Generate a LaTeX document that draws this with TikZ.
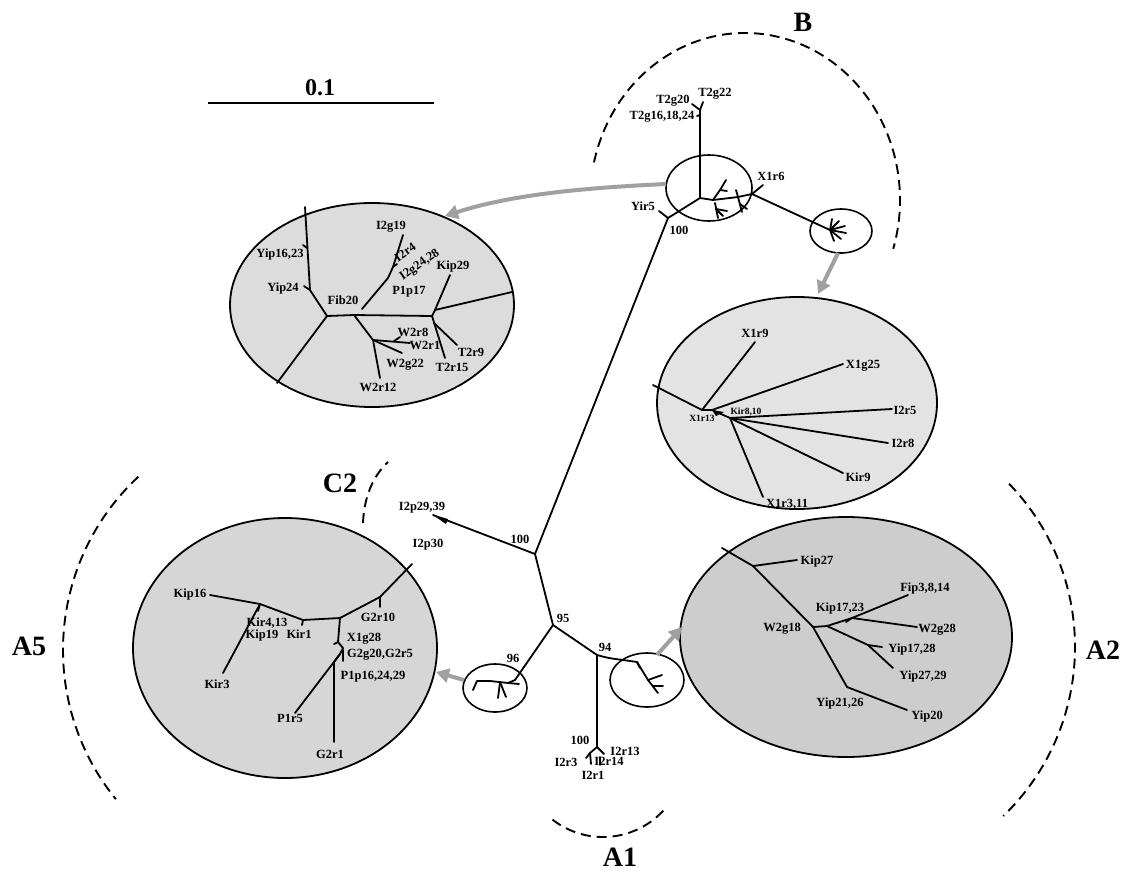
\documentclass[tikz,border=0pt]{standalone}
\usepackage{fontspec}
\setmainfont{Liberation Serif}
\usetikzlibrary{arrows.meta,shapes.geometric}
\definecolor{ea}{HTML}{DCDCDC}
\definecolor{eb}{HTML}{E3E3E3}
\definecolor{ec}{HTML}{D6D6D6}
\definecolor{ed}{HTML}{CDCDCD}
\definecolor{arr}{HTML}{A0A0A0}
\begin{document}
\begin{tikzpicture}[x=1pt,y=-1pt,line cap=round,line join=round,
  br/.style={line width=1.8pt},
  lab/.style={font=\bfseries\fontsize{12.5}{13}\selectfont,inner sep=0pt,text height=8.5pt,text depth=0pt},
  slab/.style={font=\bfseries\fontsize{9.5}{10}\selectfont,inner sep=0pt,text height=6.5pt,text depth=0pt},
  big/.style={font=\bfseries\fontsize{28}{30}\selectfont,inner sep=0pt,text height=19pt,text depth=0pt},
  clade/.style={line width=1.9pt,dash pattern=on 10pt off 6pt,line cap=butt},
  bigell/.style={ellipse,draw=black,line width=1.8pt,inner sep=0pt},
  smell/.style={ellipse,draw=black,line width=1.6pt,inner sep=0pt},
  garrow/.style={line width=4pt,draw=arr,line cap=butt,-{Triangle[length=13pt,width=14pt]}}]
\useasboundingbox (0,0) rectangle (1124,873);
\fill[white] (0,0) rectangle (1124,873);

% ---------- large ellipses ----------
\node[bigell,fill=ea,minimum width=284pt,minimum height=204pt] (E1) at (372,305) {};
\node[bigell,fill=eb,minimum width=280pt,minimum height=212pt] (E2) at (797,403) {};
\node[bigell,fill=ec,minimum width=304pt,minimum height=260pt] (E3) at (285,648) {};
\node[bigell,fill=ed,minimum width=332pt,minimum height=240pt] (E4) at (846,637) {};
% small ellipses
\node[smell,minimum width=86pt,minimum height=66pt] (SB) at (709,188) {};
\node[smell,minimum width=62pt,minimum height=44pt] (SX) at (841,231) {};
\node[smell,minimum width=64pt,minimum height=48pt] (SL) at (495,688) {};
\node[smell,minimum width=74pt,minimum height=54pt] (SR) at (647,680) {};

% ---------- scale bar ----------
\coordinate (s1) at (208,103); \coordinate (s2) at (434,103);
\draw[line width=1.8pt,line cap=butt] (s1) -- (s2);
\node[font=\bfseries\fontsize{24}{26}\selectfont,inner sep=0pt] (sl) at (320,88) {0.1};

% ---------- clade arcs ----------
\draw[clade] (745,200) ++(-167:155 and 167) arc[start angle=-167,end angle=17,x radius=155,y radius=167];
\draw[clade] (300,650) ++(-133:237) arc[start angle=-133,end angle=-219,radius=237];
\draw[clade] (840,647) ++(-44:235) arc[start angle=-44,end angle=46,radius=235];
\draw[clade] (603,755) ++(128:82) arc[start angle=128,end angle=40,radius=82];
\coordinate (c2a) at (363,523); \coordinate (c2b) at (388,462);
\draw[clade] (c2a) .. controls (364,497) and (373,476) .. (c2b);
\node[big] (lB) at (803,22) {B};
\node[big] (lA5) at (29,646) {A5};
\node[big] (lA2) at (1103,650) {A2};
\node[big,anchor=base] (lA1) at (620,866) {A1};
\node[big] (lC2) at (340,483) {C2};

% ---------- grey arrows ----------
\coordinate (g1a) at (666,184); \coordinate (g1b) at (445,216);
\draw[garrow] (g1a) .. controls (580,188) and (510,195) .. (g1b);
\coordinate (g2a) at (838,253); \coordinate (g2b) at (818,294);
\draw[garrow] (g2a) -- (g2b);
\coordinate (g3a) at (464,680); \coordinate (g3b) at (436,672);
\draw[garrow] (g3a) -- (g3b);
\coordinate (g4a) at (657,655); \coordinate (g4b) at (682,627);
\draw[garrow] (g4a) -- (g4b);

% ---------- main tree ----------
\coordinate (Y5) at (668,218); \coordinate (Y5s) at (659,211);
\coordinate (R) at (700,198); \coordinate (Rtop) at (700,110);
\coordinate (T22) at (703,102); \coordinate (T20) at (692,104);
\coordinate (T16a) at (700,115); \coordinate (T16) at (697,116);
\coordinate (Ra) at (713,200); \coordinate (Rb) at (738,197); \coordinate (Rc) at (752,194);
\coordinate (Ru1) at (720,190); \coordinate (Ru2) at (726,180); \coordinate (Ru3) at (727,191);
\coordinate (Rd0) at (715,203); \coordinate (Rd1) at (718,218); \coordinate (Rd2) at (716,209);
\coordinate (Rd3) at (727,211); \coordinate (Rd4) at (723,216);
\coordinate (Rb1) at (742,212); \coordinate (Rb2) at (740,204); \coordinate (Rb3) at (747,209);
\coordinate (Rb4) at (736,190);
\coordinate (X6) at (763,185);
\coordinate (Sb) at (830,230);
\coordinate (N100) at (535,554);
\coordinate (I2p) at (433,515);
\coordinate (N95) at (553,625);
\coordinate (N96) at (515,680);
\coordinate (N94) at (597,655);
\coordinate (Nr) at (597,747);

\draw[br] (Y5s) -- (Y5) -- (N100);
\draw[br] (Y5) -- (R) -- (Rtop) -- (T22);
\draw[br] (Rtop) -- (T20);
\draw[br] (T16a) -- (T16);
\draw[br] (R) -- (Ra) -- (Rb) -- (Rc) -- (Sb);
\draw[br] (Rc) -- (X6);
\draw[br] (Ra) -- (Ru1) -- (Ru2);
\draw[br] (Ru1) -- (Ru3);
\draw[br] (Rd0) -- (Rd1);
\draw[br] (Rd2) -- (Rd3);
\draw[br] (Rd2) -- (Rd4);
\draw[br] (Rb) -- (Rb1);
\draw[br] (Rb2) -- (Rb3);
\draw[br] (Rb) -- (Rb4);
% star in small circle
\foreach \a/\b in {845/226,846/233,841/239,834/241,839/221,832/219}{
  \coordinate (st) at (\a,\b); \draw[br] (Sb) -- (st);}
\draw[br] (N100) -- (I2p);
\coordinate (w1) at (448,519); \coordinate (w2) at (446,524);
\fill (I2p) -- (w1) -- (w2) -- cycle;
\draw[br] (N100) -- (N95) -- (N96);
\draw[br] (N95) -- (N94) -- (Nr);
% I2r fork
\coordinate (f1) at (604,754); \coordinate (f2) at (590,753);
\coordinate (f3) at (586,758); \coordinate (f4) at (591,764);
\coordinate (f5) at (600,757); \coordinate (f6) at (600,765);
\draw[br] (Nr) -- (f1); \draw[br] (Nr) -- (f2) -- (f3); \draw[br] (f2) -- (f4); \draw[br] (f5) -- (f6);
% left small tree
\coordinate (L1) at (508,683); \coordinate (L2) at (490,681); \coordinate (L3) at (477,681);
\coordinate (L4) at (473,690); \coordinate (L5) at (498,698); \coordinate (L6) at (506,697);
\coordinate (L7) at (500,682); \coordinate (L8) at (519,684);
\draw[br] (N96) -- (L1) -- (L2) -- (L3) -- (L4);
\draw[br] (L7) -- (L5); \draw[br] (L7) -- (L6); \draw[br] (L1) -- (L8);
% right small tree
\coordinate (r1) at (623,660); \coordinate (r2) at (637,662); \coordinate (r3) at (648,680);
\coordinate (r4) at (658,693); \coordinate (r5) at (662,675); \coordinate (r6) at (653,686);
\coordinate (r7) at (663,686); \coordinate (r9) at (640,668);
\draw[br] (N94) .. controls (608,658) .. (r1) -- (r2) -- (r3) -- (r4);
\draw[br] (r3) -- (r5); \draw[br] (r6) -- (r7); \draw[br] (r2) -- (r9);

% ---------- top-left ellipse tree ----------
\coordinate (tA) at (327,316); \coordinate (tB) at (354,315);
\coordinate (tJ) at (310,290); \coordinate (tTop) at (305,207);
\coordinate (tY16) at (307,248); \coordinate (tY16s) at (303,245);
\coordinate (tY24s) at (304,286); \coordinate (tLL) at (277,383);
\coordinate (tP0) at (362,309);
\coordinate (tP) at (388,278); \coordinate (tQ) at (393,267); \coordinate (tQs) at (397,264);
\coordinate (tI19) at (403,235);
\coordinate (tC) at (432,316); \coordinate (tK) at (435,310);
\coordinate (tK29) at (450,275); \coordinate (tR) at (512,292);
\coordinate (tC2) at (434,323); \coordinate (tT15) at (445,358); \coordinate (tT9) at (457,345);
\coordinate (tW) at (373,340); \coordinate (tW12) at (380,378);
\coordinate (tW22) at (402,353); \coordinate (tW1) at (410,343);
\coordinate (tW8a) at (394,341); \coordinate (tW8) at (400,337);
\draw[br] (tTop) -- (tJ) -- (tA) -- (tB) -- (tC) -- (tT15);
\draw[br] (tA) -- (tLL);
\draw[br] (tJ) -- (tY24s);
\draw[br] (tY16) -- (tY16s);
\draw[br] (tP0) -- (tP) -- (tQ) -- (tI19);
\draw[br] (tQ) -- (tQs);
\draw[br] (tC) -- (tK) -- (tK29);
\draw[br] (tK) -- (tR);
\draw[br] (tC2) -- (tT9);
\draw[br] (tB) -- (tW) -- (tW12);
\draw[br] (tW) -- (tW22);
\draw[br] (tW) -- (tW1);
\draw[br] (tW8a) -- (tW8);

% ---------- upper-right ellipse tree ----------
\coordinate (uS) at (653,385); \coordinate (uH) at (702,410);
\coordinate (uH2) at (712,410); \coordinate (uH3) at (730,418);
\coordinate (uX9) at (755,342); \coordinate (uX25) at (843,364);
\coordinate (uI5) at (892,409); \coordinate (uI8) at (888,443);
\coordinate (uK9) at (843,473); \coordinate (uX3) at (763,497);
\coordinate (uw1) at (724,412); \coordinate (uw2) at (716,416);
\draw[br] (uS) -- (uH) -- (uX9);
\draw[br] (uH) -- (uH2) -- (uX25);
\draw[br] (uH2) -- (uH3) -- (uI5);
\draw[br] (uH3) -- (uI8);
\draw[br] (uH3) -- (uK9);
\draw[br] (uH3) -- (uX3);
\fill (uH2) -- (uw1) -- (uw2) -- cycle;

% ---------- lower-right ellipse tree ----------
\coordinate (dS) at (722,548); \coordinate (dK27j) at (753,566);
\coordinate (dW18) at (813,627); \coordinate (dY21) at (847,687);
\coordinate (dK27) at (797,560); \coordinate (dW18b) at (827,626);
\coordinate (dK17) at (852,618); \coordinate (dF) at (908,595);
\coordinate (dW28) at (917,627); \coordinate (dYn) at (868,645);
\coordinate (dY27) at (893,668); \coordinate (dY17) at (882,647);
\coordinate (dY20) at (907,710);
\coordinate (dKt) at (846,622);
\draw[br] (dS) -- (dK27j) -- (dW18) -- (dY21) -- (dY20);
\draw[br] (dK27j) -- (dK27);
\draw[br] (dW18) -- (dW18b) -- (dK17) -- (dF);
\draw[br] (dK17) -- (dW28);
\draw[br] (dW18b) -- (dYn) -- (dY27);
\draw[br] (dYn) -- (dY17);
\draw[br] (dK17) -- (dKt);

% ---------- left ellipse tree ----------
\coordinate (lS) at (412,564); \coordinate (lG10j) at (380,597);
\coordinate (lG10) at (380,607); \coordinate (lNc) at (340,618);
\coordinate (lK1) at (303,620); \coordinate (lK1t) at (302,625);
\coordinate (lK19) at (260,604); \coordinate (lK4t) at (258,611);
\coordinate (lK16) at (210,595); \coordinate (lK3) at (223,673);
\coordinate (lXa) at (338,642); \coordinate (lXt) at (334,644);
\coordinate (lXb) at (343,648); \coordinate (lXc) at (340,654);
\coordinate (lP5) at (295,713); \coordinate (lG2) at (334,662);
\coordinate (lG21) at (334,742);
\coordinate (lGt1) at (343,650); \coordinate (lGt2) at (343,661);
\draw[br] (lS) -- (lG10j) -- (lNc) -- (lK1) -- (lK19) -- (lK16);
\draw[br] (lG10j) -- (lG10);
\draw[br] (lK1) -- (lK1t);
\draw[br] (lK19) -- (lK4t);
\draw[br] (lK19) -- (lK3);
\draw[br] (lNc) -- (lXa) -- (lXb) -- (lXc) -- (lP5);
\draw[br] (lXa) -- (lXt);
\draw[br] (lXc) -- (lG2) -- (lG21);
\draw[br] (lGt1) -- (lGt2);

% ---------- labels: main ----------
\node[lab] (m1) at (643,206) {Yir5};
\node[lab] (m2) at (679,230) {100};
\node[lab] (m3) at (715,92) {T2g22};
\node[lab] (m4) at (673,99) {T2g20};
\node[lab] (m5) at (662,115) {T2g16,18,24};
\node[lab] (m6) at (771,176) {X1r6};
\node[lab] (m7) at (422,506) {I2p29,39};
\node[lab] (m8) at (428,543) {I2p30};
\node[lab] (m9) at (520,539) {100};
\node[lab] (m10) at (563,618) {95};
\node[lab] (m11) at (513,658) {96};
\node[lab] (m12) at (605,647) {94};
\node[lab] (m13) at (580,740) {100};
\node[lab] (m14) at (625,751) {I2r13};
\node[lab] (m15) at (609,761) {I2r14};
\node[lab] (m16) at (566,762) {I2r3};
\node[lab] (m17) at (593,775) {I2r1};

% ---------- labels: top-left ----------
\node[lab] (a1) at (391,225) {I2g19};
\node[lab,rotate=35] (a2) at (405,252) {I2r4};
\node[lab,rotate=35] (a3) at (419,264) {I2g24,28};
\node[lab] (a4) at (453,265) {Kip29};
\node[lab] (a5) at (409,290) {P1p17};
\node[lab] (a6) at (343,300) {Fib20};
\node[lab] (a7) at (280,253) {Yip16,23};
\node[lab] (a8) at (283,287) {Yip24};
\node[lab] (a9) at (413,332) {W2r8};
\node[lab] (a10) at (425,345) {W2r1};
\node[lab] (a11) at (405,363) {W2g22};
\node[lab] (a12) at (471,352) {T2r9};
\node[lab] (a13) at (452,367) {T2r15};
\node[lab] (a14) at (378,387) {W2r12};

% ---------- labels: upper-right ----------
\node[lab] (b1) at (755,333) {X1r9};
\node[lab] (b2) at (863,364) {X1g25};
\node[slab] (b3) at (746,411) {Kir8,10};
\node[lab] (b4) at (905,410) {I2r5};
\node[lab] (b5) at (903,443) {I2r8};
\node[lab] (b6) at (858,477) {Kir9};
\node[lab] (b7) at (787,503) {X1r3,11};
\node[slab] (b8) at (702,418) {X1r13};

% ---------- labels: lower-right ----------
\node[lab] (d1) at (817,560) {Kip27};
\node[lab] (d2) at (782,627) {W2g18};
\node[lab] (d3) at (840,607) {Kip17,23};
\node[lab] (d4) at (925,587) {Fip3,8,14};
\node[lab] (d5) at (937,628) {W2g28};
\node[lab] (d6) at (912,648) {Yip17,28};
\node[lab] (d7) at (923,675) {Yip27,29};
\node[lab] (d8) at (840,702) {Yip21,26};
\node[lab] (d9) at (927,715) {Yip20};

% ---------- labels: left ----------
\node[lab] (e1) at (190,593) {Kip16};
\node[lab] (e2) at (267,622) {Kir4,13};
\node[lab] (e3) at (262,634) {Kip19};
\node[lab] (e4) at (299,634) {Kir1};
\node[lab] (e5) at (378,617) {G2r10};
\node[lab] (e6) at (364,637) {X1g28};
\node[lab] (e7) at (380,653) {G2g20,G2r5};
\node[lab] (e8) at (373,675) {P1p16,24,29};
\node[lab] (e9) at (217,684) {Kir3};
\node[lab] (e10) at (290,718) {P1r5};
\node[lab] (e11) at (330,754) {G2r1};
\end{tikzpicture}
\end{document}
